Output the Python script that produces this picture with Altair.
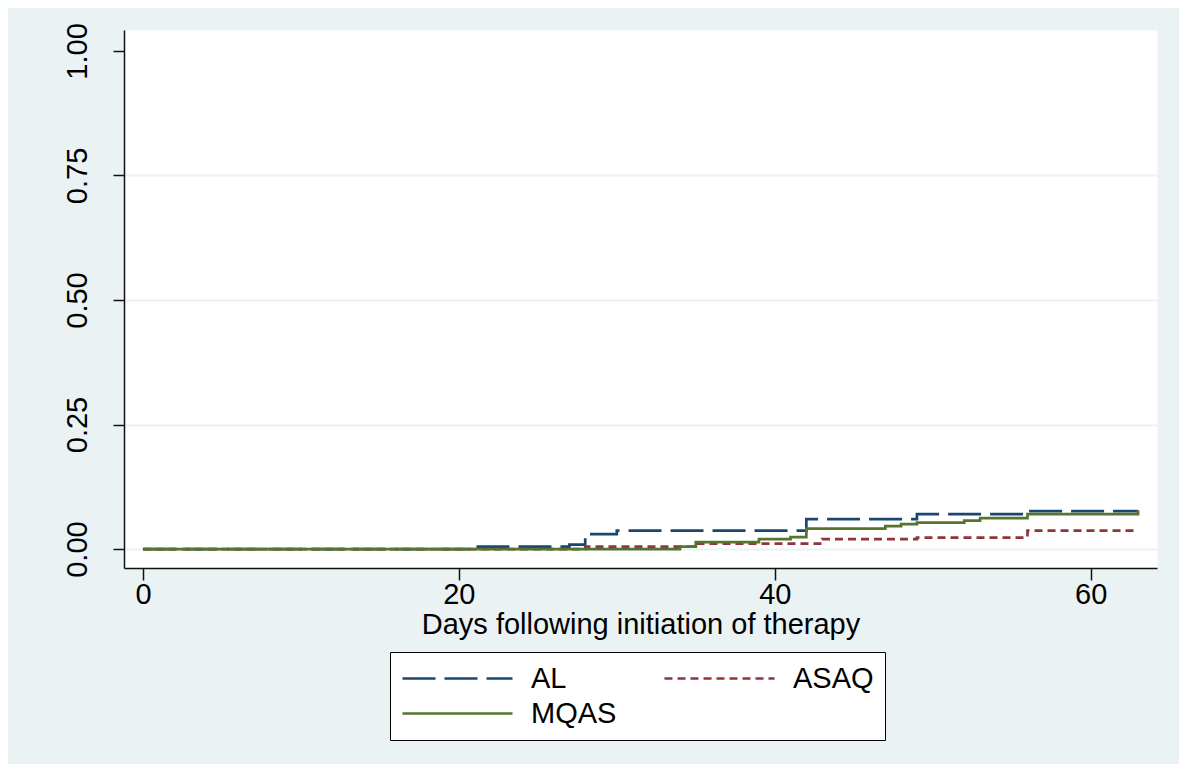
import altair as alt
import pandas as pd

# ---- data ----
groups = ["AL", "ASAQ", "MQAS"]

al_days = [0, 21, 27, 28, 30, 42, 49, 56, 63]
al_vals = [0.0, 0.005, 0.009, 0.030, 0.037, 0.060, 0.070, 0.076, 0.076]

asaq_days = [0, 28, 35, 43, 49, 56, 63]
asaq_vals = [0.0, 0.005, 0.011, 0.020, 0.023, 0.037, 0.037]

mqas_days = [0, 34, 35, 39, 41, 42, 47, 48, 49, 52, 53, 56, 63]
mqas_vals = [0.0, 0.005, 0.014, 0.020, 0.024, 0.041, 0.046, 0.050, 0.053, 0.057, 0.062, 0.070, 0.078]

x_ticks = [0, 20, 40, 60]
y_ticks = [0.0, 0.25, 0.50, 0.75, 1.00]

# ---- styles ----
colors = ["#1A476F", "#90353B", "#55752F"]
dashes = [[33, 9], [8, 5], [1, 0]]
FONT = "Liberation Sans"
BG = "#EAF2F3"

rows = []
for g, ds, vs in [("AL", al_days, al_vals), ("ASAQ", asaq_days, asaq_vals), ("MQAS", mqas_days, mqas_vals)]:
    for d, v in zip(ds, vs):
        rows.append({"group": g, "day": d, "value": v})
df = pd.DataFrame(rows)

chart = alt.Chart(df).mark_line(interpolate="step-after", strokeWidth=2.7).encode(
    x=alt.X(
        "day:Q",
        scale=alt.Scale(domain=[-1.2, 64.2], nice=False, zero=False),
        axis=alt.Axis(
            values=x_ticks, format="d", grid=False,
            title="Days following initiation of therapy",
            tickSize=12, labelPadding=0, labelFlush=False,
            titleY=65, titleBaseline="alphabetic",
        ),
    ),
    y=alt.Y(
        "value:Q",
        scale=alt.Scale(domain=[-0.038, 1.042], nice=False, zero=False),
        axis=alt.Axis(
            values=y_ticks, format=".2f", title=None,
            labelAngle=270, labelAlign="center", labelBaseline="alphabetic",
            tickSize=11, labelPadding=27, labelFlush=False,
            grid=True, gridColor=BG, gridWidth=2,
            gridOpacity={"condition": {"test": "datum.value >= 1", "value": 0}, "value": 1},
        ),
    ),
    color=alt.Color("group:N", scale=alt.Scale(domain=groups, range=colors), legend=alt.Legend(title=None)),
    strokeDash=alt.StrokeDash("group:N", scale=alt.Scale(domain=groups, range=dashes), legend=alt.Legend(title=None)),
).properties(
    width=1033,
    height=538,
    autosize=alt.AutoSizeParams(type="none"),
    padding={"left": 116, "top": 22, "right": 22, "bottom": 196},
    background=BG,
).configure_view(
    fill="white", stroke="transparent"
).configure_axis(
    labelFont=FONT, labelFontSize=29, labelColor="black",
    titleFont=FONT, titleFontSize=29, titleColor="black", titleFontWeight="normal",
    domainColor="#111111", domainWidth=1.5, tickColor="#111111", tickWidth=1.5,
).configure_legend(
    orient="none", legendX=266, legendY=622, columns=2, direction="horizontal",
    fillColor="white", strokeColor="black", padding=11,
    symbolType="stroke", symbolSize=12100, symbolStrokeWidth=2.5,
    labelFont=FONT, labelFontSize=29, labelColor="black", labelOffset=17,
    clipHeight=31, rowPadding=4, columnPadding=46,
)

chart.save("out.html", embed_options={"renderer": "svg", "actions": False})
